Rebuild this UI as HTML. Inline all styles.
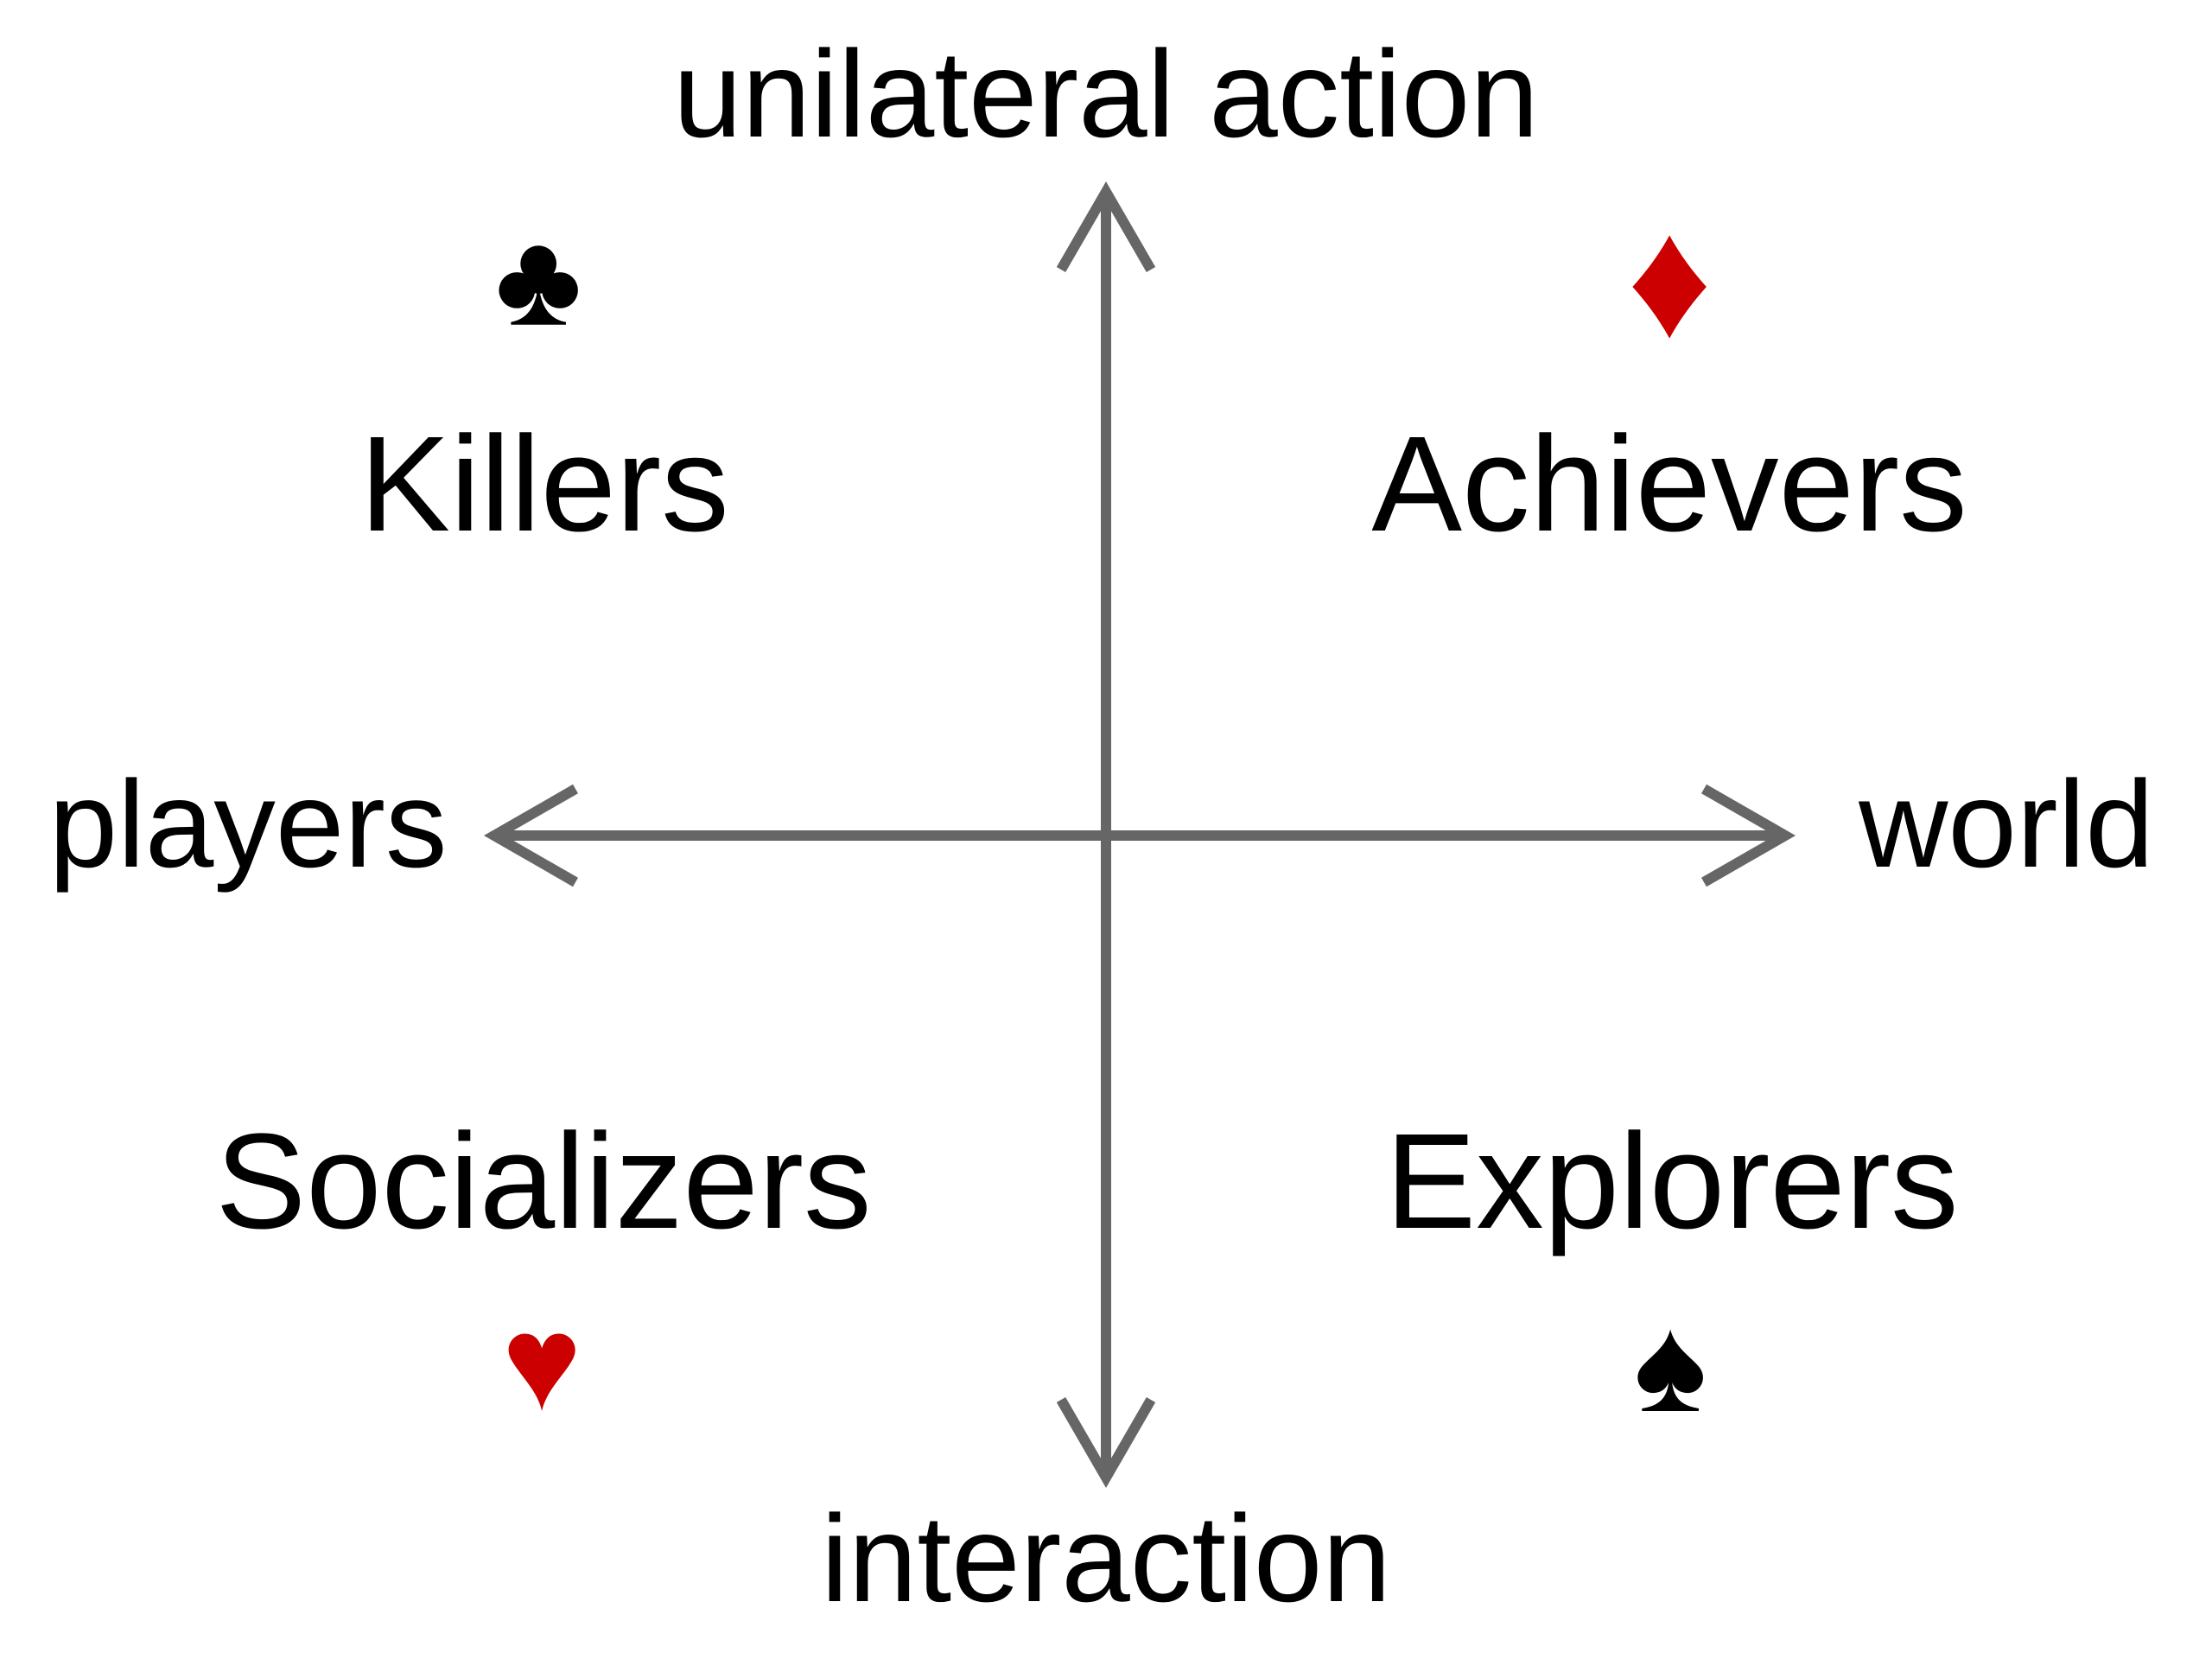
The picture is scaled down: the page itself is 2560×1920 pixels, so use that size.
<!DOCTYPE html>
<html><head><meta charset="utf-8"><style>
html,body{margin:0;padding:0;background:#fff;}
svg{display:block;}
text{font-family:"Liberation Sans",sans-serif;fill:#000;text-anchor:middle;}
.a{font-size:143px;}
.q{font-size:157px;}
</style></head><body>
<svg width="2560" height="1920" viewBox="0 0 2560 1920" xmlns="http://www.w3.org/2000/svg">
<g stroke="#666" stroke-width="12" fill="none">
<line x1="1280" y1="222" x2="1280" y2="1710"/>
<line x1="572" y1="967" x2="2066" y2="967"/>
<polyline points="1228,312 1280,222 1332,312"/>
<polyline points="1228,1620 1280,1710 1332,1620"/>
<polyline points="666,913 572,967 666,1021"/>
<polyline points="1972,913 2066,967 1972,1021"/>
</g>
<text class="a" x="1280" y="158">unilateral action</text>
<text class="q" x="630" y="614">Killers</text>
<text class="q" x="1932" y="614">Achievers</text>
<text class="a" x="287" y="1003">players</text>
<text class="a" x="2322" y="1003">world</text>
<text class="q" x="629" y="1421">Socializers</text>
<text class="q" x="1935" y="1421">Explorers</text>
<text class="a" x="1280" y="1853">interaction</text>
<g transform="scale(0.9939)">
<g fill="#000">
<circle cx="627" cy="307" r="21"/>
<circle cx="602" cy="338" r="21"/>
<circle cx="652" cy="338" r="21"/>
<circle cx="627" cy="328" r="14"/>
<path d="M627,330 C624,360 612,372 595,375 L595,378 L659,378 L659,375 C642,372 630,360 627,330 Z"/>
</g>
<path fill="#c00" d="M1944,274 C1956,296 1970,315 1987,334 C1970,353 1956,372 1944,394 C1932,372 1918,353 1901,334 C1918,315 1932,296 1944,274 Z"/>
<path fill="#c00" d="M631,1643 C626,1620 608,1604 597,1586 C585,1568 598,1553 611,1553 C622,1553 628,1560 631,1570 C634,1560 640,1553 651,1553 C664,1553 677,1568 665,1586 C654,1604 636,1620 631,1643 Z"/>
<path fill="#000" d="M1945,1548 C1940,1568 1924,1578 1913,1590 C1900,1604 1910,1622 1925,1622 C1934,1622 1940,1617 1943,1610 C1941,1628 1932,1637 1912,1640 L1912,1643 L1978,1643 L1978,1640 C1958,1637 1949,1628 1947,1610 C1950,1617 1956,1622 1965,1622 C1980,1622 1990,1604 1977,1590 C1966,1578 1950,1568 1945,1548 Z"/>
</g>
</svg>
</body></html>
